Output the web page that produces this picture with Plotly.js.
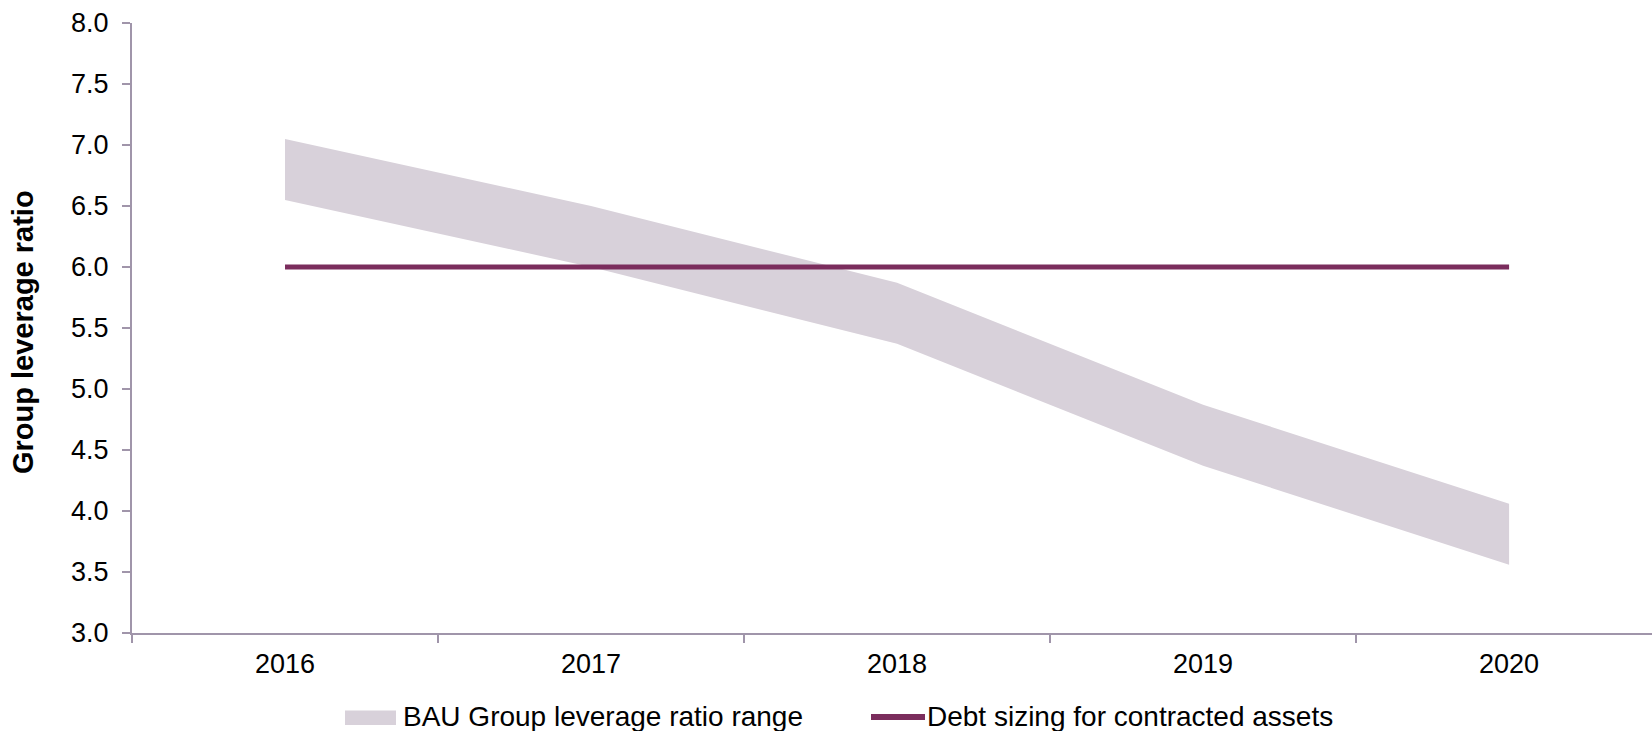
<!DOCTYPE html>
<html>
<head>
<meta charset="utf-8">
<script src="https://cdn.plot.ly/plotly-3.0.1.min.js"></script>
<style>
  html, body { margin: 0; padding: 0; background: #ffffff; }
  #chart { width: 1652px; height: 731px; }
</style>
</head>
<body>
<div id="chart"></div>
<script>
// ---- Data ----
const years = ["2016", "2017", "2018", "2019", "2020"];
const bauLow = [6.55, 6.0, 5.37, 4.37, 3.56];
const bauHigh = [7.05, 6.5, 5.87, 4.87, 4.06];
const debtSizing = [6.0, 6.0, 6.0, 6.0, 6.0];
const seriesNames = ["BAU Group leverage ratio range", "Debt sizing for contracted assets"];
const yTitle = "Group leverage ratio";

// ---- Style ----
const W = 1652, H = 731;
const M = { l: 132, r: 0, t: 23, b: 98 };
const PW = W - M.l - M.r, PH = H - M.t - M.b;
const px2x = (px) => (px - M.l) / PW;
const px2y = (py) => (H - M.b - py) / PH;

const bandColor = "#D8D1DA";
const lineColor = "#7B2D5D";
const axisColor = "#A095AA";
const font = "Liberation Sans, Arial, Helvetica, sans-serif";

const traces = [
  {
    x: years, y: bauLow, type: "scatter", mode: "lines",
    line: { width: 0, color: "rgba(240,240,240,0.6)" },
    fill: "tozeroy", fillcolor: "#ffffff",
    showlegend: false, hoverinfo: "skip"
  },
  {
    x: years, y: bauHigh, type: "scatter", mode: "lines",
    name: seriesNames[0],
    line: { width: 0, color: bandColor },
    fill: "tonexty", fillcolor: bandColor,
    showlegend: false
  },
  {
    x: years, y: debtSizing, type: "scatter", mode: "lines",
    name: seriesNames[1],
    line: { width: 5, color: lineColor },
    showlegend: false
  }
];

const legY = 716;
const layout = {
  width: W, height: H,
  margin: M,
  paper_bgcolor: "#ffffff",
  plot_bgcolor: "#ffffff",
  font: { family: font, size: 27, color: "#000000" },
  showlegend: false,
  xaxis: {
    type: "category",
    range: [-0.5, 4.467],
    tickson: "boundaries",
    ticks: "outside", ticklen: 8, tickwidth: 2, tickcolor: axisColor,
    showline: true, linecolor: axisColor, linewidth: 2,
    showgrid: false, zeroline: false,
    tickfont: { family: font, size: 27, color: "#000" },
    ticklabelstandoff: 6
  },
  yaxis: {
    range: [3, 8],
    dtick: 0.5, tick0: 3,
    tickformat: ".1f",
    ticks: "outside", ticklen: 8, tickwidth: 2, tickcolor: axisColor,
    showline: true, linecolor: axisColor, linewidth: 2,
    showgrid: false, zeroline: false,
    tickfont: { family: font, size: 27, color: "#000" },
    ticklabelstandoff: 8
  },
  shapes: [
    {
      type: "rect", xref: "paper", yref: "paper",
      x0: px2x(345), x1: px2x(396), y0: px2y(710.5), y1: px2y(725),
      fillcolor: bandColor, line: { width: 0 }
    },
    {
      type: "line", xref: "paper", yref: "paper",
      x0: px2x(871), x1: px2x(925), y0: px2y(717), y1: px2y(717),
      line: { color: lineColor, width: 6 }
    }
  ],
  annotations: [
    {
      text: "<b>" + yTitle + "</b>", xref: "paper", yref: "paper",
      x: px2x(23), y: px2y(332), xanchor: "center", yanchor: "middle",
      textangle: -90, showarrow: false,
      font: { family: font, size: 29, color: "#000" }
    },
    {
      text: seriesNames[0], xref: "paper", yref: "paper",
      x: px2x(401), y: px2y(legY), xanchor: "left", yanchor: "middle",
      showarrow: false, font: { family: font, size: 28, color: "#000" }
    },
    {
      text: seriesNames[1], xref: "paper", yref: "paper",
      x: px2x(925), y: px2y(legY), xanchor: "left", yanchor: "middle",
      showarrow: false, font: { family: font, size: 28, color: "#000" }
    }
  ]
};

Plotly.newPlot("chart", traces, layout, { staticPlot: true, displayModeBar: false });
</script>
</body>
</html>
